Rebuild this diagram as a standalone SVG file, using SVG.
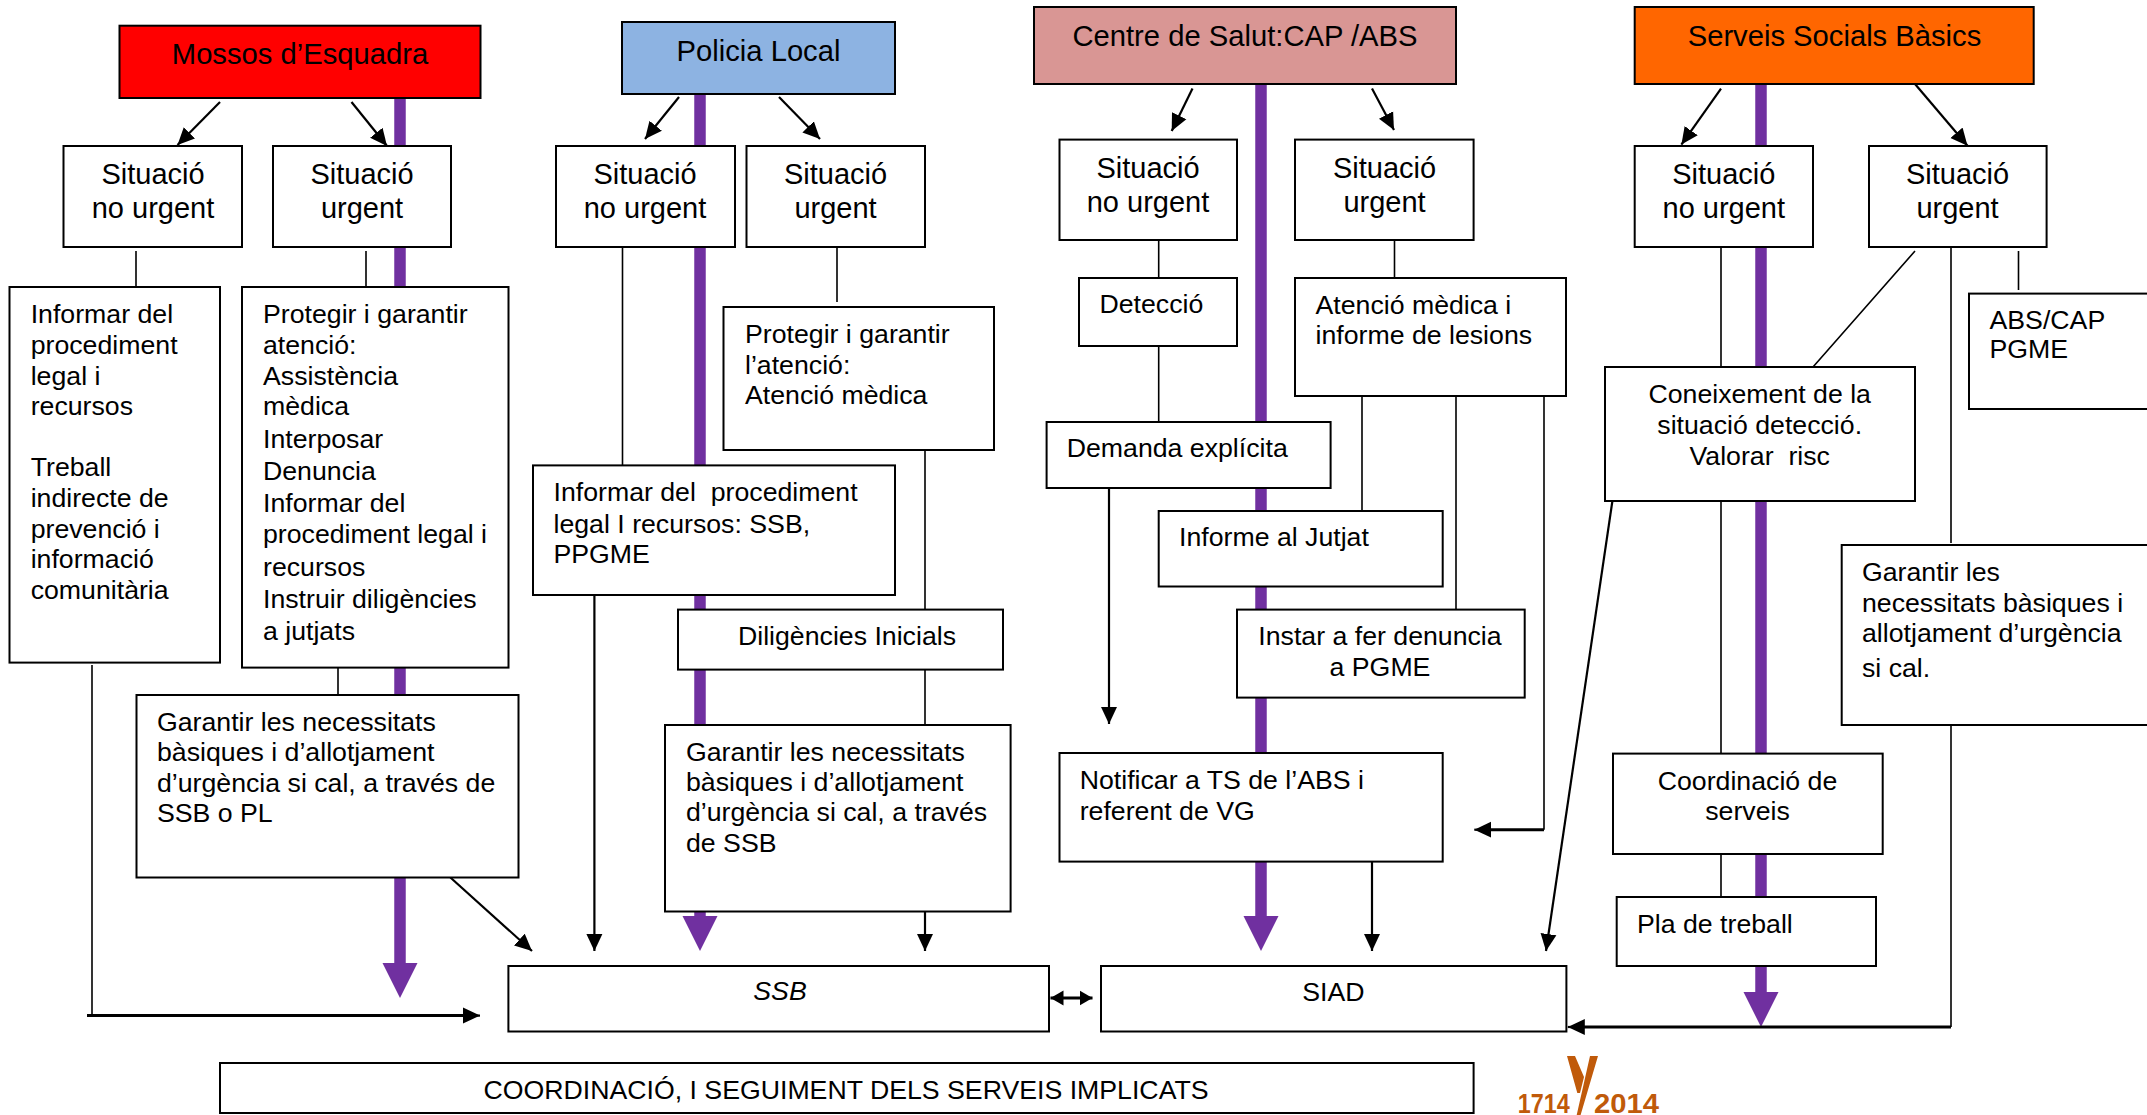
<svg xmlns="http://www.w3.org/2000/svg" width="2147" height="1115" viewBox="0 0 2147 1115">
<defs>
<style>
text{font-family:"Liberation Sans",Arial,sans-serif;font-size:26.7px;fill:#000;white-space:pre}
.h{font-size:29.2px}
.s{font-size:29px;text-anchor:middle}
.c{text-anchor:middle}
.i{font-style:italic}
rect{fill:#fff;stroke:#000;stroke-width:2}
.t{fill:none;stroke:#000;stroke-width:1.6}
.a{fill:none;stroke:#000;stroke-width:2.2;marker-end:url(#ah)}
.k{fill:none;stroke:#000;stroke-width:3}
.p{fill:none;stroke:#7030a0;stroke-width:11.5}
.pa{marker-end:url(#ph)}
.logo{font-size:27px;font-weight:bold;fill:#c05a0a}
.lm{fill:#c05a0a}
</style>
<marker id="ah" markerUnits="userSpaceOnUse" markerWidth="18" markerHeight="17" refX="17" refY="8.5" orient="auto"><path d="M0,0.5L17,8.5L0,16.5z" fill="#000"/></marker>
<marker id="as" markerUnits="userSpaceOnUse" markerWidth="14" markerHeight="16" refX="13" refY="8" orient="auto-start-reverse"><path d="M0,0.5L13,8L0,15.5z" fill="#000"/></marker>
<marker id="ph" markerUnits="userSpaceOnUse" markerWidth="36" markerHeight="36" refX="0" refY="18" orient="auto"><path d="M0,0.5L35,18L0,35.5z" fill="#7030a0"/></marker>
</defs>
<rect x="-1" y="-1" width="2149" height="1117" style="fill:#fff;stroke:none"/>
<g id="connectors">
<path class="p pa" d="M400,98V963"/>
<path class="p pa" d="M700,94V916"/>
<path class="p pa" d="M1261,84V916"/>
<path class="p pa" d="M1761,84V992"/>
<path class="a" d="M220,102L177.5,145"/>
<path class="a" d="M351.5,102L387,146"/>
<path class="a" d="M679,97L645,139"/>
<path class="a" d="M779,97L820,139"/>
<path class="a" d="M1192.5,88.6L1171.7,131"/>
<path class="a" d="M1372,88.6L1394,130"/>
<path class="a" d="M1721,88.6L1681.4,144.6"/>
<path class="a" d="M1915,84L1967.5,145.7"/>
<path class="t" d="M136,251V287M366,251V287M622.5,247V465M837,247V302M925,445V610M338,668V695"/>
<path class="t" d="M925,670V725M1158.7,240V278M1158.7,346V422M1394.5,240V278M1362,396V511M1456,396V610"/>
<path class="t" d="M1721,247V754M1915,251L1813,367M1951,247V543M2018.5,251V290M1721,854V897"/>
<path class="a" d="M594.4,595V951"/>
<path class="a" d="M450.4,877.5L532,951"/>
<path class="a" d="M925,911V951"/>
<path class="t" d="M92,665V1015.6"/>
<path class="k" d="M87,1015.6H465"/><path class="a" d="M465,1015.6H480"/>
<path class="a" d="M1109,488V724"/>
<path class="t" d="M1544,396V829.7"/>
<path class="k" d="M1544,829.7H1490"/><path class="a" d="M1490,829.7H1474.3"/>
<path class="a" d="M1372,861.6V951"/>
<path class="a" d="M1612.4,501L1546,951"/>
<path class="t" d="M1951,725V1027"/>
<path class="k" d="M1951,1027H1582"/><path class="a" d="M1582,1027H1567.8"/>
<path d="M1050.5,998H1092.5" fill="none" stroke="#000" stroke-width="3" marker-start="url(#as)" marker-end="url(#as)"/>
</g>
<g id="mossos"><rect x="119.5" y="25.7" width="361" height="72.3" style="fill:#f00"/><text class="h" x="300" y="63.6" text-anchor="middle">Mossos d’Esquadra</text></g>
<g id="policia"><rect x="622" y="22" width="273" height="72" style="fill:#8db3e2"/><text class="h" x="758.5" y="60.7" text-anchor="middle">Policia Local</text></g>
<g id="salut"><rect x="1034" y="7" width="422" height="77" style="fill:#d99694"/><text class="h" x="1245" y="46" text-anchor="middle">Centre de Salut:CAP /ABS</text></g>
<g id="serveis"><rect x="1634.7" y="7" width="399" height="77" style="fill:#f60"/><text class="h" x="1834.5" y="46" text-anchor="middle">Serveis Socials Bàsics</text></g>
<g id="m-nourgent"><rect x="63.5" y="146" width="178.5" height="101"/><text class="s" y="184"><tspan x="153">Situació</tspan><tspan x="153" y="218">no urgent</tspan></text></g>
<g id="m-urgent"><rect x="273" y="146" width="178" height="101"/><text class="s" y="184"><tspan x="362">Situació</tspan><tspan x="362" y="218">urgent</tspan></text></g>
<g id="p-nourgent"><rect x="556" y="146" width="179" height="101"/><text class="s" y="184"><tspan x="645">Situació</tspan><tspan x="645" y="218">no urgent</tspan></text></g>
<g id="p-urgent"><rect x="746.5" y="146" width="178.5" height="101"/><text class="s" y="184"><tspan x="835.5">Situació</tspan><tspan x="835.5" y="218">urgent</tspan></text></g>
<g id="c-nourgent"><rect x="1059.5" y="139.6" width="177.5" height="100.4"/><text class="s" y="177.5"><tspan x="1148">Situació</tspan><tspan x="1148" y="211.5">no urgent</tspan></text></g>
<g id="c-urgent"><rect x="1295" y="139.6" width="178.6" height="100.4"/><text class="s" y="177.5"><tspan x="1384.5">Situació</tspan><tspan x="1384.5" y="211.5">urgent</tspan></text></g>
<g id="s-nourgent"><rect x="1634.7" y="146" width="178.3" height="101"/><text class="s" y="184"><tspan x="1723.8">Situació</tspan><tspan x="1723.8" y="218">no urgent</tspan></text></g>
<g id="s-urgent"><rect x="1869" y="146" width="177.6" height="101"/><text class="s" y="184"><tspan x="1957.5">Situació</tspan><tspan x="1957.5" y="218">urgent</tspan></text></g>
<g id="m-informar"><rect x="9.5" y="287" width="210.5" height="375.6"/><text><tspan x="30.7" y="323">Informar del</tspan><tspan x="30.7" y="354">procediment</tspan><tspan x="30.7" y="385">legal i</tspan><tspan x="30.7" y="415">recursos</tspan><tspan x="30.7" y="476">Treball</tspan><tspan x="30.7" y="507">indirecte de</tspan><tspan x="30.7" y="537.5">prevenció i</tspan><tspan x="30.7" y="568">informació</tspan><tspan x="30.7" y="599">comunitària</tspan></text></g>
<g id="m-protegir"><rect x="242" y="287" width="266.5" height="380.6"/><text><tspan x="263" y="323">Protegir i garantir</tspan><tspan x="263" y="354">atenció:</tspan><tspan x="263" y="385">Assistència</tspan><tspan x="263" y="415">mèdica</tspan><tspan x="263" y="448">Interposar</tspan><tspan x="263" y="480">Denuncia</tspan><tspan x="263" y="512">Informar del</tspan><tspan x="263" y="543">procediment legal i</tspan><tspan x="263" y="576">recursos</tspan><tspan x="263" y="608">Instruir diligències</tspan><tspan x="263" y="640">a jutjats</tspan></text></g>
<g id="m-garantir"><rect x="136.5" y="695" width="382" height="182.5"/><text><tspan x="157" y="730.6">Garantir les necessitats</tspan><tspan x="157" y="761">bàsiques i d’allotjament</tspan><tspan x="157" y="792">d’urgència si cal, a través de</tspan><tspan x="157" y="822">SSB o PL</tspan></text></g>
<g id="p-protegir"><rect x="723.5" y="307" width="270.5" height="143"/><text><tspan x="745" y="343">Protegir i garantir</tspan><tspan x="745" y="373.6">l’atenció:</tspan><tspan x="745" y="403.6">Atenció mèdica</tspan></text></g>
<g id="p-informar"><rect x="533" y="465.4" width="362" height="129.6"/><text><tspan x="553.5" y="501">Informar del  procediment</tspan><tspan x="553.5" y="533">legal I recursos: SSB,</tspan><tspan x="553.5" y="563">PPGME</tspan></text></g>
<g id="p-diligencies"><rect x="678" y="609.6" width="325" height="60"/><text class="c" x="847" y="644.5">Diligències Inicials</text></g>
<g id="p-garantir"><rect x="665" y="725" width="345.6" height="186.5"/><text><tspan x="686" y="760.7">Garantir les necessitats</tspan><tspan x="686" y="791">bàsiques i d’allotjament</tspan><tspan x="686" y="821">d’urgència si cal, a través</tspan><tspan x="686" y="852">de SSB</tspan></text></g>
<g id="c-deteccio"><rect x="1079" y="278" width="158" height="68"/><text x="1099.5" y="312.5">Detecció</text></g>
<g id="c-demanda"><rect x="1046.6" y="422" width="284" height="66"/><text x="1066.7" y="457">Demanda explícita</text></g>
<g id="c-atencio"><rect x="1295" y="278" width="271" height="118"/><text><tspan x="1315.5" y="313.6">Atenció mèdica i</tspan><tspan x="1315.5" y="344">informe de lesions</tspan></text></g>
<g id="c-informe"><rect x="1158.7" y="511" width="284" height="75.5"/><text x="1179" y="546">Informe al Jutjat</text></g>
<g id="c-instar"><rect x="1237" y="609.6" width="287.7" height="88"/><text class="c"><tspan x="1380" y="645">Instar a fer denuncia</tspan><tspan x="1380" y="675.8">a PGME</tspan></text></g>
<g id="c-notificar"><rect x="1059.5" y="753" width="383.2" height="108.6"/><text><tspan x="1079.7" y="788.5">Notificar a TS de l’ABS i</tspan><tspan x="1079.7" y="819.5">referent de VG</tspan></text></g>
<g id="s-coneixement"><rect x="1605" y="367" width="310" height="134"/><text class="c"><tspan x="1759.7" y="403">Coneixement de la</tspan><tspan x="1759.7" y="434">situació detecció.</tspan><tspan x="1759.7" y="465">Valorar  risc</tspan></text></g>
<g id="s-abs"><rect x="1969" y="293.6" width="190" height="115.4"/><text><tspan x="1989.5" y="328.6">ABS/CAP</tspan><tspan x="1989.5" y="358">PGME</tspan></text></g>
<g id="s-garantir"><rect x="1841.7" y="545" width="320" height="180"/><text><tspan x="1862" y="580.5">Garantir les</tspan><tspan x="1862" y="611.7">necessitats bàsiques i</tspan><tspan x="1862" y="642">allotjament d’urgència</tspan><tspan x="1862" y="676.8">si cal.</tspan></text></g>
<g id="s-coordinacio"><rect x="1613" y="753.6" width="269.7" height="100.4"/><text class="c"><tspan x="1747.5" y="790">Coordinació de</tspan><tspan x="1747.5" y="820">serveis</tspan></text></g>
<g id="s-pla"><rect x="1616.7" y="897" width="259.3" height="69"/><text x="1637" y="932.7">Pla de treball</text></g>
<g id="ssb"><rect x="508.4" y="966" width="540.6" height="65.5"/><text class="c i" x="780" y="1000">SSB</text></g>
<g id="siad"><rect x="1101" y="966" width="465.4" height="65.5"/><text class="c" x="1333.4" y="1000.5">SIAD</text></g>
<g id="coordinacio"><rect x="220" y="1063" width="1253.6" height="50"/><text class="c" x="846" y="1099">COORDINACIÓ, I SEGUIMENT DELS SERVEIS IMPLICATS</text></g>
<g id="logo"><path class="lm" d="M1567,1056H1575L1584,1077L1580,1093H1577.3zM1590,1056H1598L1580.6,1115H1576.7z"/><text class="logo" x="1517.7" y="1112.5" textLength="52" lengthAdjust="spacingAndGlyphs">1714</text><text class="logo" x="1594" y="1112.5" textLength="65" lengthAdjust="spacingAndGlyphs">2014</text></g>
</svg>
